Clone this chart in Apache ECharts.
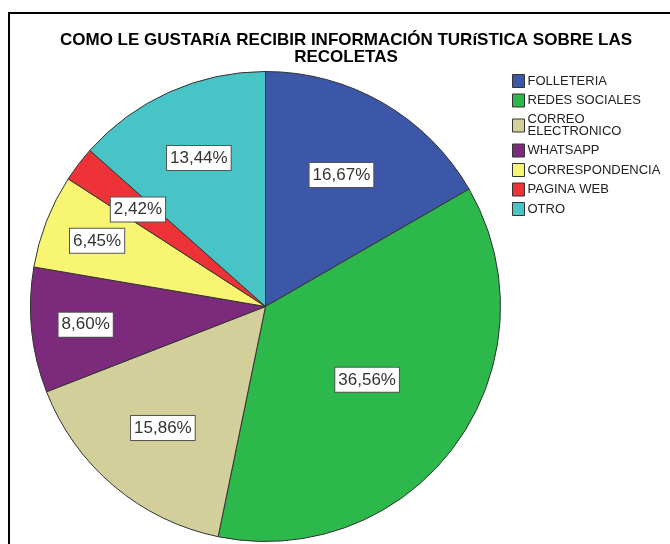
<!DOCTYPE html>
<html>
<head>
<meta charset="utf-8">
<script src="https://cdn.jsdelivr.net/npm/echarts@6/dist/echarts.min.js"></script>
<style>
  html, body { margin: 0; padding: 0; background: #fff; }
  #chart { width: 670px; height: 544px; }
</style>
</head>
<body>
<div id="chart"></div>
<script>
const categories = ['FOLLETERIA', 'REDES SOCIALES', 'CORREO ELECTRONICO', 'WHATSAPP', 'CORRESPONDENCIA', 'PAGINA WEB', 'OTRO']
const percents = [16.67, 36.56, 15.86, 8.60, 6.45, 2.42, 13.44]
const colors = ['#3d57a8', '#2db84b', '#d3cf9a', '#7b2a7c', '#f8f572', '#ee3338', '#48c3c6']
// where each label sits, as a share of the radius
const labelRadius = [0.63, 0.52, 0.66, 0.75, 0.75, 0.665, 0.675]

const cx = 265.5, cy = 306.5

const chart = echarts.init(document.getElementById('chart'))
chart.setOption({
  animation: false,
  textStyle: { fontFamily: 'Liberation Sans, Arial, sans-serif' },
  title: {
    text: 'COMO LE GUSTARíA RECIBIR INFORMACIÓN TURíSTICA SOBRE LAS\nRECOLETAS',
    left: 341,
    top: 27,
    textAlign: 'center',
    textStyle: { fontSize: 17, fontWeight: 'bold', color: '#000', lineHeight: 17 }
  },
  legend: {
    orient: 'vertical',
    left: 507,
    top: 69,
    itemWidth: 12,
    itemHeight: 13,
    itemGap: 5.5,
    icon: 'rect',
    selectedMode: false,
    itemStyle: { borderColor: '#333', borderWidth: 1 },
    formatter: name => name.replace(' ELECTRONICO', '\nELECTRONICO'),
    textStyle: { fontSize: 13, color: '#222', lineHeight: 12, padding: [0, 0, 0, -2] },
    data: categories
  },
  graphic: [{
    type: 'rect',
    shape: { x: 9, y: 13, width: 700, height: 600 },
    style: { fill: 'none', stroke: '#000', lineWidth: 2 },
    silent: true
  }],
  series: [{
    type: 'pie',
    center: [cx, cy],
    radius: 235,
    startAngle: 90,
    clockwise: true,
    silent: true,
    itemStyle: { borderColor: '#333', borderWidth: 1 },
    label: {
      position: 'inside',
      formatter: p => p.value.toFixed(2).replace('.', ',') + '%',
      fontSize: 17,
      color: '#333',
      backgroundColor: '#fff',
      borderColor: '#555',
      borderWidth: 1,
      padding: [4, 3, 3, 3]
    },
    labelLine: { show: false },
    labelLayout: p => {
      const r = p.labelRect
      const vx = r.x + r.width / 2 - cx
      const vy = r.y + r.height / 2 - cy
      const f = labelRadius[p.dataIndex] / 0.5 - 1
      return { dx: vx * f, dy: vy * f }
    },
    data: categories.map((c, i) => ({ name: c, value: percents[i], itemStyle: { color: colors[i] } }))
  }]
})
</script>
</body>
</html>
